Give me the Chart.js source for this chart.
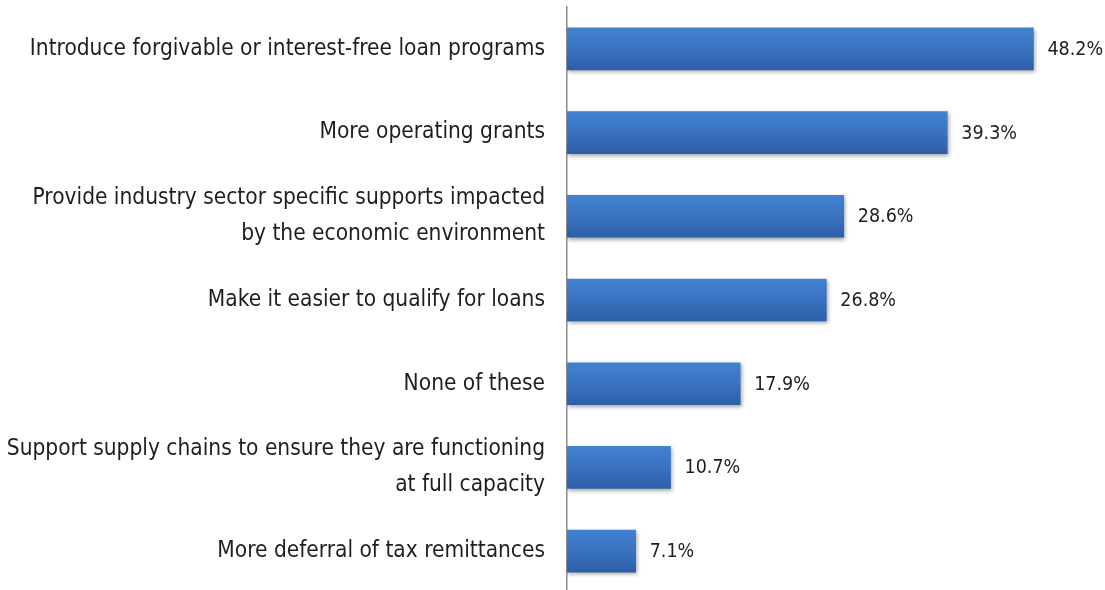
<!DOCTYPE html>
<html>
<head>
<meta charset="utf-8">
<script src="https://cdn.jsdelivr.net/npm/chart.js@4"></script>
<style>
  html, body { margin: 0; padding: 0; background: #fff; overflow: hidden; }
  #wrap { width: 1105px; height: 593px; position: relative; }
</style>
</head>
<body>
<div id="wrap"><canvas id="chart"></canvas></div>
<script>
const labels = [
  'Introduce forgivable or interest-free loan programs',
  'More operating grants',
  ['Provide industry sector specific supports impacted', 'by the economic environment'],
  'Make it easier to qualify for loans',
  'None of these',
  ['Support supply chains to ensure they are functioning', 'at full capacity'],
  'More deferral of tax remittances'
];
const values = [48.2, 39.3, 28.6, 26.8, 17.9, 10.7, 7.1];

const FONT = '"DejaVu Sans Condensed", "Liberation Sans Narrow", sans-serif';

// blue bar fill, light at the top edge and darker toward the bottom
function barFill(context) {
  const chart = context.chart;
  const y = chart.scales.y;
  if (!y || context.dataIndex === undefined) return '#3a72c0';
  const c = y.getPixelForValue(context.dataIndex);
  if (!isFinite(c)) return '#3a72c0';
  const g = chart.ctx.createLinearGradient(0, c - 21, 0, c + 21);
  g.addColorStop(0, '#4282d2');
  g.addColorStop(0.5, '#3a72c0');
  g.addColorStop(1, '#2d5fa6');
  return g;
}

const barShadow = {
  id: 'barShadow',
  beforeDatasetsDraw(chart) {
    const ctx = chart.ctx;
    ctx.save();
    ctx.shadowColor = 'rgba(0,0,0,0.35)';
    ctx.shadowBlur = 4;
    ctx.shadowOffsetX = 1;
    ctx.shadowOffsetY = 2;
  },
  afterDatasetsDraw(chart) {
    chart.ctx.restore();
  }
};

const valueLabels = {
  id: 'valueLabels',
  afterDatasetsDraw(chart) {
    const ctx = chart.ctx;
    const meta = chart.getDatasetMeta(0);
    ctx.save();
    ctx.font = '19.5px ' + FONT;
    ctx.fillStyle = '#1e1e1e';
    ctx.textBaseline = 'middle';
    ctx.textAlign = 'left';
    meta.data.forEach((bar, i) => {
      ctx.fillText(values[i].toFixed(1) + '%', bar.x + 14, bar.y + 1);
    });
    ctx.restore();
  }
};

new Chart(document.getElementById('chart'), {
  type: 'bar',
  data: {
    labels,
    datasets: [{
      data: values,
      backgroundColor: barFill,
      borderWidth: 0,
      barThickness: 42
    }]
  },
  options: {
    indexAxis: 'y',
    responsive: true,
    maintainAspectRatio: false,
    animation: false,
    layout: { padding: { top: 7, right: 0, bottom: 0, left: 0 } },
    plugins: { legend: { display: false }, tooltip: { enabled: false } },
    scales: {
      x: {
        min: 0,
        max: 55.6,
        display: false
      },
      y: {
        afterFit(scale) {
          scale.width = 567;
          scale.paddingTop = 0;
          scale.paddingBottom = 0;
        },
        grid: { display: false, drawTicks: false },
        border: { display: true, color: '#8c8c8c', width: 1.5 },
        ticks: {
          color: '#1e1e1e',
          padding: 22,
          font: { family: FONT, size: 22.5, lineHeight: 1.6 }
        }
      }
    }
  },
  plugins: [barShadow, valueLabels]
});
</script>
</body>
</html>
